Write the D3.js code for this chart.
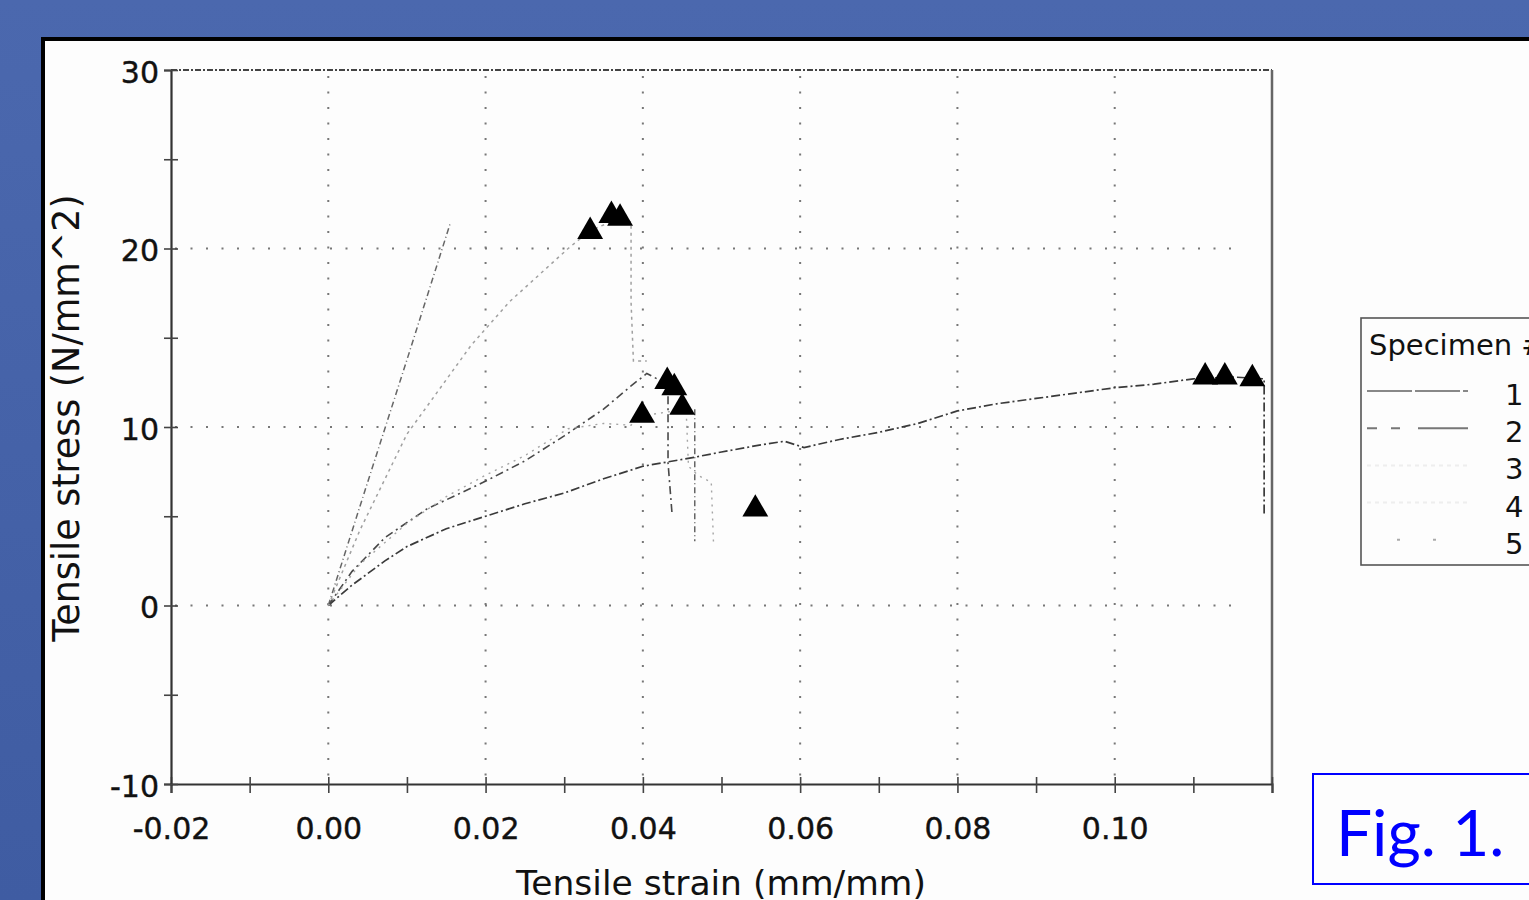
<!DOCTYPE html>
<html><head><meta charset="utf-8">
<script src="https://cdn.jsdelivr.net/npm/d3@7"></script>
<style>html,body{margin:0;padding:0;overflow:hidden;background:#4a66ab}</style>
</head><body>
<script>
// ---------- data ----------
const specimenLabels = ["1", "2", "3", "4", "5"];
// [strain (mm/mm), stress (N/mm^2)]; null = gap in the recorded trace
const spec1 = [[0,0],[0.0029,1.1],[0.0072,2.5],[0.01,3.3],[0.015,4.3],[0.02,5.0],[0.025,5.7],[0.03,6.3],[0.035,7.1],[0.04,7.8],[0.0465,8.3],[0.05,8.6],[0.055,9.0],[0.058,9.2],[0.0605,8.85],[0.065,9.3],[0.07,9.7],[0.075,10.2],[0.08,10.9],[0.085,11.3],[0.09,11.6],[0.095,11.9],[0.10,12.2],[0.105,12.4],[0.11,12.7],[0.115,12.8],[0.119,12.7],[0.119,5.1]];
const spec2 = [[0,0],[0.005,6.9],[0.0101,13.9],[0.0155,21.4],null,[0.0466,11.0],[0.0466,3.6]];
const spec3 = [[0,0],[0.004,4.2],[0.01,9.6],[0.0182,14.6],[0.023,17.0],[0.027,18.6],[0.0305,20.0],[0.0333,21.0],[0.0365,21.6],[0.0385,21.5],[0.0385,17.0],[0.0388,13.7],[0.0405,13.7]];
const spec4 = [[0,0],[0.003,1.9],[0.0072,3.8],[0.0125,5.4],[0.0197,6.9],[0.025,8.1],[0.03,9.5],[0.035,11.0],[0.0385,12.3],[0.0405,13.0],[0.0418,12.7],[0.0432,12.0],[0.0432,8.0],[0.0437,5.2]];
const spec5 = [[0,0],[0.004,2.3],[0.01,4.6],[0.015,6.1],[0.02,7.3],[0.025,8.4],[0.0305,9.9],[0.035,10.2],[0.0385,10.1],[0.0395,10.6],[0.0455,11.0],[0.0458,7.8],[0.047,7.3],[0.0487,6.9],[0.049,3.3]];
const breakStrain = [0.0333,0.036,0.0371,0.0431,0.044,0.045,0.0399,0.0543,0.1115,0.114,0.1175];
const breakStress = [20.95,21.85,21.7,12.55,12.2,11.1,10.65,5.4,12.8,12.8,12.7];
const xLabelTicks = [-0.02,0.00,0.02,0.04,0.06,0.08,0.10];
const xAllTicks = [-0.02,-0.01,0.00,0.01,0.02,0.03,0.04,0.05,0.06,0.07,0.08,0.09,0.10,0.11,0.12];
const yLabelTicks = [-10,0,10,20,30];
const yAllTicks = [-10,-5,0,5,10,15,20,25,30];
const xGrid = [0.00,0.02,0.04,0.06,0.08,0.10];
const yGrid = [0,10,20];
const xTitle = "Tensile strain (mm/mm)";
const yTitle = "Tensile stress (N/mm^2)";
const legendTitle = "Specimen #";
const figLabel = "Fig. 1.";

// ---------- drawing ----------
const W = 1529, H = 900;
const svg = d3.select("body").append("svg").attr("width", W).attr("height", H);
const defs = svg.append("defs");
const grad = defs.append("linearGradient").attr("id","bg").attr("x1",0).attr("y1",0).attr("x2",0).attr("y2",1);
grad.append("stop").attr("offset","0%").attr("stop-color","#4b68ae");
grad.append("stop").attr("offset","100%").attr("stop-color","#3f5ca2");
svg.append("rect").attr("width",W).attr("height",H).attr("fill","url(#bg)");
svg.append("rect").attr("x",43).attr("y",39).attr("width",1700).attr("height",1000)
  .attr("fill","#fdfdfd").attr("stroke","#000").attr("stroke-width",4);

const x = d3.scaleLinear().domain([-0.02,0.12]).range([171,1272]);
const y = d3.scaleLinear().domain([-10,30]).range([784,70]);
const FONT = "DejaVu Sans, Verdana, sans-serif";

// grid
const grid = svg.append("g").attr("stroke","#777").attr("stroke-width",2).attr("stroke-dasharray","2,13.5");
grid.selectAll("line.gx").data(xGrid).join("line").attr("class","gx")
  .attr("x1",d=>x(d)).attr("x2",d=>x(d)).attr("y1",y(30)+6).attr("y2",y(-10));
grid.selectAll("line.gy").data(yGrid).join("line").attr("class","gy")
  .attr("x1",x(-0.02)+4).attr("x2",x(0.12)-30).attr("y1",d=>y(d)).attr("y2",d=>y(d));

// frame: top (dashed) & right
svg.append("line").attr("x1",x(-0.02)).attr("x2",x(0.12)).attr("y1",y(30)).attr("y2",y(30))
  .attr("stroke","#444").attr("stroke-width",1.8).attr("stroke-dasharray","6,2,2,2");
svg.append("line").attr("x1",x(0.12)).attr("x2",x(0.12)).attr("y1",y(30)).attr("y2",y(-10))
  .attr("stroke","#666").attr("stroke-width",2.5);

// axes
const gxT = svg.append("g").attr("transform",`translate(0,${y(-10)})`)
  .call(d3.axisBottom(x).tickValues(xAllTicks).tickSize(9).tickFormat(""));
gxT.selectAll(".tick line").attr("y1",-7).attr("stroke","#444").attr("stroke-width",1.6);
gxT.select(".domain").attr("stroke","#333").attr("stroke-width",2.2);
const gxL = svg.append("g").attr("transform",`translate(0,${y(-10)})`)
  .call(d3.axisBottom(x).tickValues(xLabelTicks).tickSize(0).tickPadding(34).tickFormat(d3.format(".2f")));
gxL.select(".domain").remove();
gxL.selectAll("text").attr("font-family",FONT).attr("font-size",30).attr("fill","#111")
  .attr("stroke","#111").attr("stroke-width",0.4)
  .text(d => d3.format(".2f")(d).replace("−","-"));

const gyT = svg.append("g").attr("transform",`translate(${x(-0.02)},0)`)
  .call(d3.axisLeft(y).tickValues(yAllTicks).tickSize(7).tickFormat(""));
gyT.selectAll(".tick line").attr("x1",-7).attr("x2",7).attr("stroke","#444").attr("stroke-width",1.6);
gyT.select(".domain").attr("stroke","#333").attr("stroke-width",2.2);
const gyL = svg.append("g").attr("transform",`translate(${x(-0.02)},0)`)
  .call(d3.axisLeft(y).tickValues(yLabelTicks).tickSize(0).tickPadding(12).tickFormat(d3.format("d")));
gyL.select(".domain").remove();
gyL.selectAll("text").attr("font-family",FONT).attr("font-size",30).attr("fill","#111").attr("dy","0.4em")
  .attr("stroke","#111").attr("stroke-width",0.4)
  .text(d => String(d));

// axis titles
svg.append("text").attr("x",721).attr("y",895).attr("text-anchor","middle")
  .attr("font-family",FONT).attr("font-size",34.5).attr("fill","#111").text(xTitle);
svg.append("text").attr("transform","translate(79,418) rotate(-90)").attr("text-anchor","middle")
  .attr("font-family",FONT).attr("font-size",36.5).attr("fill","#111").text(yTitle);

// curves
const series = [spec1, spec2, spec3, spec4, spec5];
const styles = [
  {stroke:"#3a3a3a", w:1.7, dash:"9,3,2,3"},
  {stroke:"#666",    w:1.5, dash:"6,3,1,3"},
  {stroke:"#a0a0a0", w:1.5, dash:"3,4"},
  {stroke:"#484848", w:1.6, dash:"8,4,2,4"},
  {stroke:"#a5a5a5", w:1.4, dash:"2,5"}
];
const line = d3.line().defined(d => d != null).x(d => x(d[0])).y(d => y(d[1]));
svg.append("g").selectAll("path").data(series).join("path")
  .attr("d", line).attr("fill","none")
  .attr("stroke",(d,i)=>styles[i].stroke).attr("stroke-width",(d,i)=>styles[i].w)
  .attr("stroke-dasharray",(d,i)=>styles[i].dash);

// break markers
svg.append("g").selectAll("path").data(breakStrain).join("path")
  .attr("transform",(d,i)=>`translate(${x(d)},${y(breakStress[i])})`)
  .attr("d", d3.symbol(d3.symbolTriangle, 290)).attr("fill","#000");

// legend
const lg = svg.append("g");
lg.append("rect").attr("x",1361).attr("y",318).attr("width",400).attr("height",247)
  .attr("fill","none").attr("stroke","#555").attr("stroke-width",1.6);
lg.append("text").attr("x",1369).attr("y",355).attr("font-family",FONT).attr("font-size",29)
  .attr("fill","#111").text(legendTitle);
const legendStyles = [
  {stroke:"#888", dash:"45,3"},
  {stroke:"#777", dash:"10,14,9,18,50"},
  {stroke:"#eeeeee", dash:"4,4"},
  {stroke:"#eeeeee", dash:"4,4"},
  {stroke:"#aaa", dash:"0,30,3,3"}
];
const li = lg.selectAll("g.item").data(specimenLabels).join("g").attr("class","item")
  .attr("transform",(d,i)=>`translate(0,${391 + i*37.2})`);
li.append("line").attr("x1",1367).attr("x2",1468).attr("y1",0).attr("y2",0)
  .attr("stroke",(d,i)=>legendStyles[i].stroke).attr("stroke-width",2)
  .attr("stroke-dasharray",(d,i)=>legendStyles[i].dash);
li.append("text").attr("x",1505).attr("y",14).attr("font-family",FONT).attr("font-size",29)
  .attr("fill","#111").text(d=>d);

// figure label box
svg.append("rect").attr("x",1313).attr("y",774).attr("width",400).attr("height",110)
  .attr("fill","#fdfdfd").attr("stroke","#0000ff").attr("stroke-width",2);
svg.append("text").attr("x",1336).attr("y",856).attr("font-family","Lato, 'Open Sans', sans-serif")
  .attr("font-size",64).attr("fill","#0000ff").text(figLabel);
</script>
</body></html>
